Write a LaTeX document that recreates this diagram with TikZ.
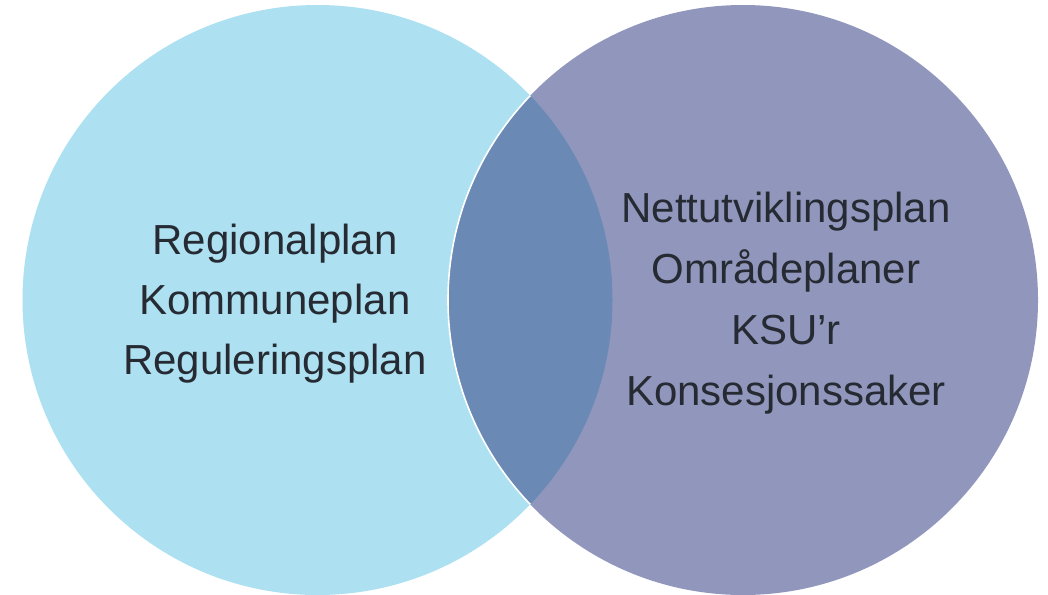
\documentclass[tikz,border=0pt]{standalone}
\usepackage{fontspec}
\setmainfont{Liberation Sans}
\definecolor{leftfill}{HTML}{ADE1F1}
\definecolor{rightfill}{HTML}{9197BC}
\definecolor{overlapfill}{HTML}{6A89B5}
\definecolor{txt}{HTML}{262A33}
\begin{document}
\begin{tikzpicture}[x=1pt,y=-1pt,
  lbl/.style={anchor=base,text=txt,inner sep=0pt,font=\fontsize{42}{50}\selectfont}]
\useasboundingbox (0,0) rectangle (1048,594);
\fill[leftfill] (317.5,300) circle[radius=295];
\fill[rightfill] (743,300) circle[radius=295];
\begin{scope}
  \clip (317.5,300) circle[radius=295];
  \fill[overlapfill] (743,300) circle[radius=295];
  \draw[white,line width=1.6pt] (743,300) circle[radius=295];
\end{scope}
\node[lbl] (l1) at (275,254) {Regionalplan};
\node[lbl] (l2) at (275,314) {Kommuneplan};
\node[lbl] (l3) at (275,374) {Reguleringsplan};
\node[lbl] (r1) at (786,222) {Nettutviklingsplan};
\node[lbl] (r2) at (786,283) {Områdeplaner};
\node[lbl] (r3) at (786,344) {KSU’r};
\node[lbl] (r4) at (786,405) {Konsesjonssaker};
\end{tikzpicture}
\end{document}
